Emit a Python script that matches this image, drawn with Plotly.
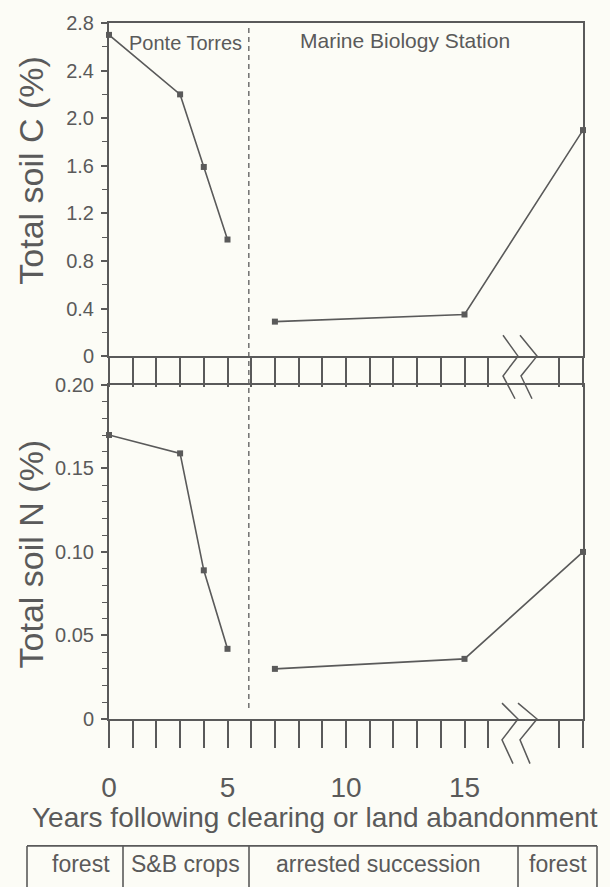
import plotly.graph_objects as go

# ---------------- data ----------------
pt_years = [0, 3, 4, 5]
pt_soil_c = [2.70, 2.20, 1.59, 0.98]
pt_soil_n = [0.170, 0.159, 0.089, 0.042]

mbs_years = [7, 15, 20]
mbs_soil_c = [0.29, 0.35, 1.90]
mbs_soil_n = [0.030, 0.036, 0.100]

x_tick_years = list(range(0, 17)) + [19, 20]
x_tick_labels = ["0", "5", "10", "15"]
c_ticks = [0, 0.4, 0.8, 1.2, 1.6, 2.0, 2.4, 2.8]
c_tick_labels = ["0", "0.4", "0.8", "1.2", "1.6", "2.0", "2.4", "2.8"]
c_minor = [0.2, 0.6, 1.0, 1.4, 1.8, 2.2, 2.6]
n_ticks = [0, 0.05, 0.10, 0.15, 0.20]
n_tick_labels = ["0", "0.05", "0.10", "0.15", "0.20"]
n_minor = [0.01, 0.02, 0.03, 0.04, 0.06, 0.07, 0.08, 0.09,
           0.11, 0.12, 0.13, 0.14, 0.16, 0.17, 0.18, 0.19]
site_labels = ["Ponte Torres", "Marine Biology Station"]
boundary_year = 5.9
phases = ["forest", "S&B crops", "arrested succession", "forest"]
x_title = "Years following clearing or land abandonment"

# ---------------- styling ----------------
INK = "#5a5a5a"
BG = "#fcfcf6"
FONT = "Liberation Sans, Arial, Helvetica, sans-serif"

# plot area in pixels
L, R, T, B = 109, 583, 17, 719
W, H = 610, 887


def px(x):
    return (x - L) / (R - L)


def py(y):
    return (B - y) / (B - T)


top_dom = [py(353), 1.0]
bot_dom = [0.0, py(382)]

fig = go.Figure()

line_style = dict(color=INK, width=1.6)
marker_style = dict(symbol="square", size=6, color=INK)


def add_series(x, y, xa, ya):
    fig.add_trace(go.Scatter(x=x, y=y, mode="lines+markers", line=line_style,
                             marker=marker_style, xaxis=xa, yaxis=ya,
                             cliponaxis=False, showlegend=False, hoverinfo="x+y"))


add_series(pt_years, pt_soil_c, "x2", "y2")
add_series(mbs_years, mbs_soil_c, "x2", "y2")
add_series(pt_years, pt_soil_n, "x", "y")
add_series(mbs_years, mbs_soil_n, "x", "y")

label_map = dict(zip([0, 5, 10, 15], x_tick_labels))
xtext = [label_map.get(v, "") for v in x_tick_years]

axis_common = dict(showline=True, linecolor=INK, linewidth=2, mirror=True,
                   showgrid=False, zeroline=False, tickcolor=INK, tickwidth=1.5)

fig.update_layout(
    width=W, height=H,
    margin=dict(l=L, r=W - R, t=T, b=H - B),
    paper_bgcolor=BG, plot_bgcolor=BG,
    font=dict(family=FONT, color=INK),
    xaxis=dict(domain=[0, 1], range=[0, 20], anchor="y",
               tickmode="array", tickvals=x_tick_years, ticktext=xtext,
               ticks="outside", ticklen=27, ticklabelstandoff=15,
               tickfont=dict(size=28, color=INK),
               **axis_common),
    xaxis2=dict(domain=[0, 1], range=[0, 20], anchor="y2", matches="x",
                tickmode="array", tickvals=x_tick_years, showticklabels=False,
                ticks="outside", ticklen=29, **axis_common),
    yaxis=dict(domain=bot_dom, range=[0, 0.2], anchor="x",
               tickmode="array", tickvals=n_ticks, ticktext=n_tick_labels,
               ticks="outside", ticklen=6, ticklabelstandoff=3,
               tickfont=dict(size=20, color=INK),
               minor=dict(tickvals=n_minor, ticks="outside", ticklen=5,
                          tickcolor=INK, tickwidth=1.2),
               **axis_common),
    yaxis2=dict(domain=top_dom, range=[0, 2.8], anchor="x2",
                tickmode="array", tickvals=c_ticks, ticktext=c_tick_labels,
                ticks="outside", ticklen=6, ticklabelstandoff=3,
                tickfont=dict(size=20, color=INK),
                minor=dict(tickvals=c_minor, ticks="outside", ticklen=5,
                           tickcolor=INK, tickwidth=1.2),
                **axis_common),
)

shapes = []
# dashed boundary between sites
shapes.append(dict(type="line", xref="x", yref="paper", x0=boundary_year, x1=boundary_year,
                   y0=py(708), y1=py(22), line=dict(color=INK, width=1.3, dash="5px,4px")))
# right border through the strip
shapes.append(dict(type="line", xref="paper", yref="paper", x0=1, x1=1,
                   y0=py(382), y1=py(353), line=dict(color=INK, width=2)))

# axis-break zigzags
breaks = [
    [(503, 332), (518, 353), (503, 373), (515, 396)],
    [(520, 332), (537, 353), (521, 373), (532, 396)],
    [(502, 703), (518, 719), (502, 740), (513, 764)],
    [(518, 703), (537, 719), (520, 740), (530, 764)],
]
for pts in breaks:
    path = "M " + " L ".join(f"{px(x):.5f},{py(y):.5f}" for x, y in pts)
    shapes.append(dict(type="path", xref="paper", yref="paper", path=path,
                       line=dict(color=INK, width=1.5)))

# phase table
tab_top, tab_bot = 847, 892
tab_x = [27, 123, 249, 518, 597]
shapes.append(dict(type="line", xref="paper", yref="paper", x0=px(tab_x[0]), x1=px(tab_x[-1]),
                   y0=py(tab_top), y1=py(tab_top), line=dict(color=INK, width=1.6)))
for xv in tab_x:
    shapes.append(dict(type="line", xref="paper", yref="paper", x0=px(xv), x1=px(xv),
                       y0=py(tab_top), y1=py(tab_bot), line=dict(color=INK, width=1.6)))
fig.update_layout(shapes=shapes)

ann = []
# site labels
ann.append(dict(text=site_labels[0], xref="paper", yref="paper", x=px(127), y=py(37),
                xanchor="left", yanchor="middle", showarrow=False,
                font=dict(size=20, color=INK)))
ann.append(dict(text=site_labels[1], xref="paper", yref="paper", x=px(298), y=py(35),
                xanchor="left", yanchor="middle", showarrow=False,
                font=dict(size=21, color=INK)))
# y titles
ann.append(dict(text="Total soil C (%)", xref="paper", yref="paper", x=px(31), y=py(166),
                xanchor="center", yanchor="middle", textangle=-90, showarrow=False,
                font=dict(size=34, color=INK)))
ann.append(dict(text="Total soil N (%)", xref="paper", yref="paper", x=px(31), y=py(553),
                xanchor="center", yanchor="middle", textangle=-90, showarrow=False,
                font=dict(size=34, color=INK)))
# x title
ann.append(dict(text=x_title, xref="paper", yref="paper", x=px(315), y=py(818),
                xanchor="center", yanchor="middle", showarrow=False,
                font=dict(size=28, color=INK)))
# phase labels
phase_centers = [81, 185, 378, 558]
for name, cx in zip(phases, phase_centers):
    ann.append(dict(text=name, xref="paper", yref="paper", x=px(cx), y=py(865),
                    xanchor="center", yanchor="middle", showarrow=False,
                    font=dict(size=23, color=INK)))
fig.update_layout(annotations=ann)

fig.write_html("out.html",
               config={"displayModeBar": False},
               post_script="document.body.style.margin='0px';"
                           "document.body.style.padding='0px';"
                           "document.body.style.background='" + BG + "';"
                           "document.documentElement.style.background='" + BG + "';")
